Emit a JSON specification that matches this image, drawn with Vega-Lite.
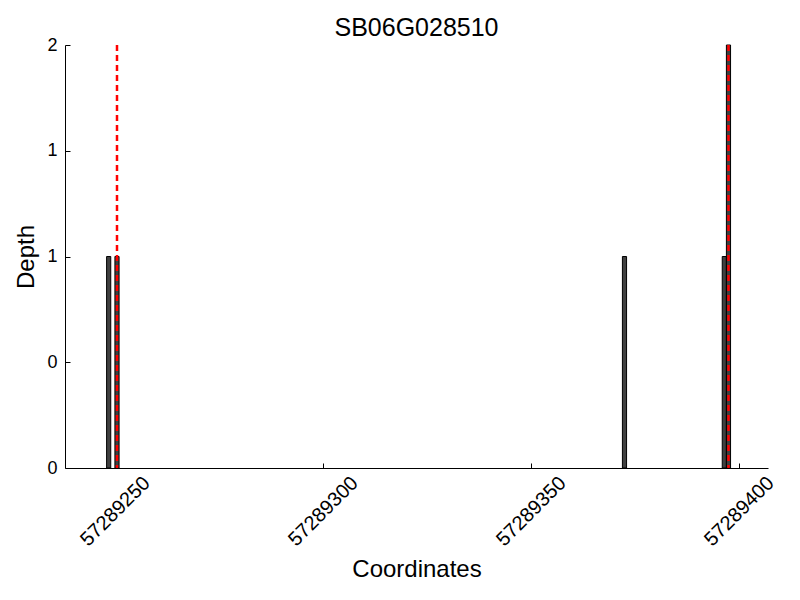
{
  "$schema": "https://vega.github.io/schema/vega-lite/v6.json",
  "autosize": {"type": "none"},
  "width": 703,
  "height": 423,
  "padding": {"left": 65, "top": 45, "right": 32, "bottom": 132},
  "background": "white",
  "config": {"view": {"stroke": null}, "font": "Liberation Sans"},
  "title": {"text": "SB06G028510", "fontSize": 25, "fontWeight": "normal", "color": "black", "offset": -5, "font": "Liberation Sans"},
  "datasets": {
    "bars": [
      {"start": 57289248, "end": 57289249, "depth": 1},
      {"start": 57289250, "end": 57289251, "depth": 1},
      {"start": 57289372, "end": 57289373, "depth": 1},
      {"start": 57289396, "end": 57289397, "depth": 1},
      {"start": 57289397, "end": 57289398, "depth": 2}
    ],
    "marks": [
      {"pos": 57289250.5},
      {"pos": 57289397.5}
    ]
  },
  "layer": [
    {
      "data": {"name": "bars"},
      "mark": {"type": "bar", "fill": "#404040", "stroke": "black", "strokeWidth": 1},
      "encoding": {
        "x": {
          "field": "start", "type": "quantitative",
          "scale": {"domain": [57289238, 57289407], "nice": false, "zero": false},
          "axis": {
            "title": "Coordinates", "titleFontSize": 24, "titleFontWeight": "normal", "titleColor": "black", "titlePadding": 8,
            "values": [57289250, 57289300, 57289350, 57289400], "format": "d",
            "labelAngle": -45, "labelAlign": "center", "labelBaseline": "middle", "labelFontSize": 20, "labelColor": "black", "labelPadding": 48,
            "grid": false, "tickSize": -5, "tickColor": "black", "domainColor": "black", "labelFlush": false, "labelOverlap": false
          }
        },
        "x2": {"field": "end"},
        "y": {
          "field": "depth", "type": "quantitative",
          "scale": {"domain": [0, 2], "nice": false},
          "axis": {
            "title": "Depth", "titleFontSize": 24, "titleFontWeight": "normal", "titleColor": "black", "titlePadding": 8,
            "values": [0, 0.5, 1, 1.5, 2], "labelExpr": "floor(datum.value)",
            "labelFontSize": 18, "labelColor": "black", "labelPadding": 13,
            "grid": false, "tickSize": -5, "tickColor": "black", "domainColor": "black", "labelFlush": false, "labelOverlap": false
          }
        },
        "y2": {"datum": 0}
      }
    },
    {
      "data": {"name": "marks"},
      "mark": {"type": "rule", "color": "red", "strokeWidth": 2.5, "strokeDash": [6, 4]},
      "encoding": {
        "x": {"field": "pos", "type": "quantitative"}
      }
    }
  ]
}
